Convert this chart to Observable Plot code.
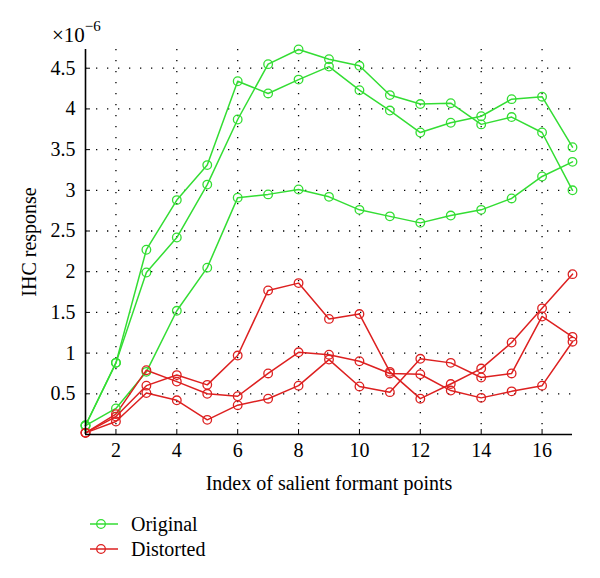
<!DOCTYPE html>
<html>
<head>
<meta charset="utf-8">
<script src="https://cdn.jsdelivr.net/npm/d3@7"></script>
<script src="https://cdn.jsdelivr.net/npm/@observablehq/plot@0.6"></script>
<style>
  body { margin: 0; background: #fff; font-family: "Liberation Serif", serif; }
  #wrap { position: relative; width: 600px; height: 578px; overflow: hidden; }
  #exp { position: absolute; left: 52px; top: 23px; font-size: 21px; color: #000; white-space: nowrap; }
  #exp sup { font-size: 15px; position: relative; top: -3px; vertical-align: super; line-height: 0; }
  .leg { position: absolute; left: 90px; height: 22px; display: flex; align-items: center; font-size: 20px; color: #000; }
  .leg svg { margin-right: 11px; }
</style>
</head>
<body>
<div id="wrap">
  <div id="exp">×10<sup>−6</sup></div>
</div>
<script>
// ---- data (units of 1e-6) ----
const pointIndex = [1,2,3,4,5,6,7,8,9,10,11,12,13,14,15,16,17];
const original1 = [0.11,0.88,1.99,2.42,3.07,3.87,4.55,4.73,4.61,4.53,4.17,4.06,4.07,3.81,3.90,3.71,3.00];
const original2 = [0.11,0.88,2.27,2.88,3.31,4.34,4.19,4.36,4.52,4.23,3.98,3.71,3.83,3.91,4.12,4.15,3.53];
const original3 = [0.11,0.32,0.77,1.52,2.05,2.91,2.95,3.01,2.92,2.76,2.68,2.60,2.69,2.76,2.90,3.17,3.35];
const distorted1 = [0.02,0.22,0.60,0.73,0.61,0.97,1.77,1.86,1.42,1.48,0.77,0.44,0.62,0.81,1.13,1.55,1.97];
const distorted2 = [0.02,0.25,0.79,0.65,0.50,0.47,0.75,1.01,0.98,0.90,0.75,0.74,0.54,0.45,0.53,0.60,1.14];
const distorted3 = [0.02,0.16,0.51,0.42,0.18,0.36,0.44,0.60,0.92,0.59,0.52,0.93,0.88,0.70,0.75,1.45,1.20];

const groups = ["Original", "Distorted"];
const groupColors = ["#33dd33", "#dd2020"];
const xTicks = [2,4,6,8,10,12,14,16];
const yTicks = [0.5,1,1.5,2,2.5,3,3.5,4,4.5];
const xLabel = "Index of salient formant points";
const yLabel = "IHC response";

const seriesList = [
  {name: "o1", group: "Original", values: original1},
  {name: "o2", group: "Original", values: original2},
  {name: "o3", group: "Original", values: original3},
  {name: "d1", group: "Distorted", values: distorted1},
  {name: "d2", group: "Distorted", values: distorted2},
  {name: "d3", group: "Distorted", values: distorted3}
];
const rows = seriesList.flatMap(s => s.values.map((v, i) => ({series: s.name, group: s.group, x: pointIndex[i], y: v})));

const gridStyle = {stroke: "#000", strokeOpacity: 1, strokeWidth: 1.3, strokeDasharray: "1.3,9.7"};

const chart = Plot.plot({
  width: 600,
  height: 500,
  marginLeft: 85,
  marginRight: 28,
  marginTop: 49,
  marginBottom: 66,
  style: {fontFamily: "Liberation Serif, serif", fontSize: "20px", color: "#000", background: "#fff"},
  x: {domain: [1, 17]},
  y: {domain: [0, 4.73]},
  color: {domain: groups, range: groupColors},
  marks: [
    Plot.gridX(xTicks, gridStyle),
    Plot.gridY(yTicks, gridStyle),
    Plot.line(rows, {x: "x", y: "y", z: "series", stroke: "group", strokeWidth: 1.5}),
    Plot.dot(rows, {x: "x", y: "y", z: "series", stroke: "group", r: 4.3, strokeWidth: 1.3, fill: "none"}),
    Plot.ruleY([0], {stroke: "#000", strokeWidth: 1.6}),
    Plot.ruleX([1], {stroke: "#000", strokeWidth: 1.6}),
    Plot.axisX({ticks: xTicks, tickSize: -5, tickPadding: 13, tickFormat: d => String(d),
      label: xLabel, labelAnchor: "center", labelOffset: 55, labelArrow: "none"}),
    Plot.axisY({ticks: yTicks, tickSize: -5, tickPadding: 15, tickFormat: d => String(d),
      label: yLabel, labelAnchor: "center", labelOffset: 64, labelArrow: "none"})
  ]
});
const wrap = document.getElementById("wrap");
wrap.insertBefore(chart, wrap.firstChild);

// legend (HTML, below the SVG)
groups.forEach((g, i) => {
  const row = document.createElement("div");
  row.className = "leg";
  row.style.top = (513 + i * 25) + "px";
  const c = groupColors[i];
  row.innerHTML = `<svg width="30" height="22"><line x1="0" y1="11" x2="28" y2="11" stroke="${c}" stroke-width="1.5"/><circle cx="11" cy="11" r="4.3" fill="none" stroke="${c}" stroke-width="1.3"/></svg><span>${g}</span>`;
  wrap.appendChild(row);
});
</script>
</body>
</html>
